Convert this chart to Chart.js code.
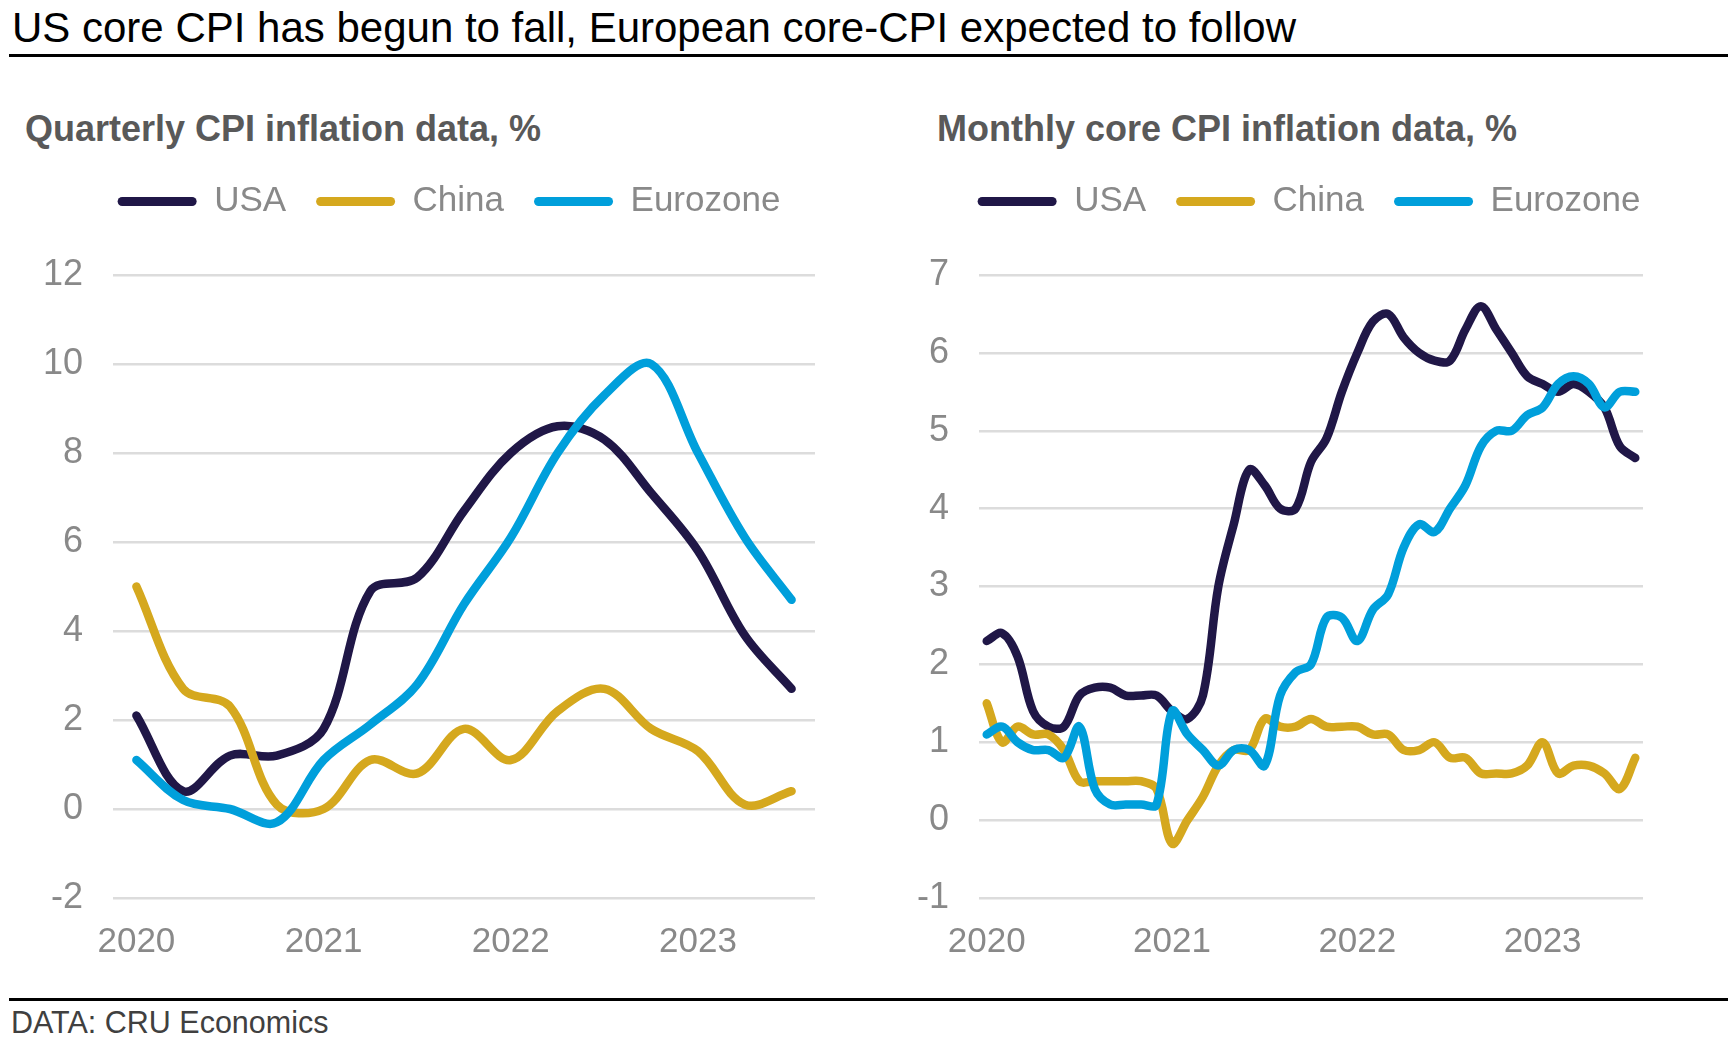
<!DOCTYPE html>
<html><head><meta charset="utf-8">
<script src="https://cdn.jsdelivr.net/npm/chart.js@4.4.1/dist/chart.umd.min.js"></script>
<style>
html,body{margin:0;padding:0;background:#fff;width:1728px;height:1049px;overflow:hidden;font-family:"Liberation Sans",Arial,sans-serif;}
#title{position:absolute;left:12px;top:6.5px;font-size:42px;line-height:42px;color:#000;white-space:nowrap;}
.rule{position:absolute;left:9px;right:0;background:#000;}
.sub{position:absolute;top:111px;font-size:36px;line-height:36px;font-weight:bold;color:#595959;white-space:nowrap;}
#src{position:absolute;left:11px;top:1007px;font-size:30.5px;line-height:30px;color:#404040;white-space:nowrap;}
canvas{position:absolute;}
</style></head>
<body>
<div id="title">US core CPI has begun to fall, European core-CPI expected to follow</div>
<div class="rule" style="top:53.5px;height:3px"></div>
<div class="sub" style="left:25px">Quarterly CPI inflation data, %</div>
<div class="sub" style="left:937px">Monthly core CPI inflation data, %</div>
<canvas id="q" width="898" height="809" style="left:0;top:154px"></canvas>
<canvas id="m" width="838" height="809" style="left:890px;top:154px"></canvas>
<div class="rule" style="top:998px;height:2.5px"></div>
<div id="src">DATA: CRU Economics</div>
<script>
// ---------- data ----------
const seriesNames = ['USA', 'China', 'Eurozone'];
const seriesColors = ['#201747', '#D5A81E', '#009FDB'];

const yearTicks = ['2020', '2021', '2022', '2023'];

const quarters = ['2020 Q1','2020 Q2','2020 Q3','2020 Q4','2021 Q1','2021 Q2','2021 Q3','2021 Q4',
                  '2022 Q1','2022 Q2','2022 Q3','2022 Q4','2023 Q1','2023 Q2','2023 Q3'];
const qUSA      = [2.1, 0.4, 1.2, 1.2, 1.8, 4.9, 5.2, 6.7, 8.0, 8.6, 8.3, 7.1, 5.8, 3.9, 2.7];
const qChina    = [5.0, 2.7, 2.3, 0.1, 0.0, 1.1, 0.8, 1.8, 1.1, 2.2, 2.7, 1.8, 1.3, 0.1, 0.4];
const qEurozone = [1.1, 0.2, 0.0, -0.3, 1.1, 1.9, 2.8, 4.6, 6.1, 8.0, 9.3, 10.0, 8.0, 6.1, 4.7];
const qYTicks   = {min: -2, max: 12, step: 2};

const months = ['Jan 2020','Feb 2020','Mar 2020','Apr 2020','May 2020','Jun 2020','Jul 2020','Aug 2020','Sep 2020','Oct 2020','Nov 2020','Dec 2020',
                'Jan 2021','Feb 2021','Mar 2021','Apr 2021','May 2021','Jun 2021','Jul 2021','Aug 2021','Sep 2021','Oct 2021','Nov 2021','Dec 2021',
                'Jan 2022','Feb 2022','Mar 2022','Apr 2022','May 2022','Jun 2022','Jul 2022','Aug 2022','Sep 2022','Oct 2022','Nov 2022','Dec 2022',
                'Jan 2023','Feb 2023','Mar 2023','Apr 2023','May 2023','Jun 2023','Jul 2023'];
const mUSA      = [2.3, 2.4, 2.1, 1.4, 1.2, 1.2, 1.6, 1.7, 1.7, 1.6, 1.6, 1.6,
                   1.4, 1.3, 1.6, 3.0, 3.8, 4.5, 4.3, 4.0, 4.0, 4.6, 4.9, 5.5,
                   6.0, 6.4, 6.5, 6.2, 6.0, 5.9, 5.9, 6.3, 6.6, 6.3, 6.0, 5.7,
                   5.6, 5.5, 5.6, 5.5, 5.3, 4.8, 4.65];
const mChina    = [1.5, 1.0, 1.2, 1.1, 1.1, 0.9, 0.5, 0.5, 0.5, 0.5, 0.5, 0.4,
                   -0.3, 0.0, 0.3, 0.7, 0.9, 0.9, 1.3, 1.2, 1.2, 1.3, 1.2, 1.2,
                   1.2, 1.1, 1.1, 0.9, 0.9, 1.0, 0.8, 0.8, 0.6, 0.6, 0.6, 0.7,
                   1.0, 0.6, 0.7, 0.7, 0.6, 0.4, 0.8];
const mEurozone = [1.1, 1.2, 1.0, 0.9, 0.9, 0.8, 1.2, 0.4, 0.2, 0.2, 0.2, 0.2,
                   1.4, 1.1, 0.9, 0.7, 0.9, 0.9, 0.7, 1.6, 1.9, 2.0, 2.6, 2.6,
                   2.3, 2.7, 2.9, 3.5, 3.8, 3.7, 4.0, 4.3, 4.8, 5.0, 5.0, 5.2,
                   5.3, 5.6, 5.7, 5.6, 5.3, 5.5, 5.5];
const mYTicks   = {min: -1, max: 7, step: 1};

// ---------- chart builder ----------
Chart.defaults.font.family = "'Liberation Sans', Arial, sans-serif";
const GREY = '#898989';

function makeChart(id, labels, series, yt, perYear, leftW, rightW) {
  const datasets = series.map((d, i) => ({
    label: seriesNames[i],
    data: d,
    borderColor: seriesColors[i],
    backgroundColor: seriesColors[i],
    borderWidth: 8.5,
    pointRadius: 0,
    pointHoverRadius: 0,
    tension: 0.35,
    borderCapStyle: 'round',
    borderJoinStyle: 'round',
    fill: false,
    order: 3 - i
  }));
  return new Chart(document.getElementById(id), {
    type: 'line',
    data: {labels, datasets},
    options: {
      responsive: false,
      animation: false,
      events: [],
      layout: {padding: 0},
      plugins: {
        tooltip: {enabled: false},
        legend: {
          position: 'top',
          align: 'center',
          labels: {
            color: GREY,
            font: {size: 35},
            boxWidth: 79,
            boxHeight: 9,
            padding: 30,
            useBorderRadius: true,
            borderRadius: 4.5,
            sort: (a, b) => a.datasetIndex - b.datasetIndex,
            generateLabels(chart) {
              const items = Chart.defaults.plugins.legend.labels.generateLabels(chart);
              return items.map(it => Object.assign(it, {
                fillStyle: it.strokeStyle, lineWidth: 0, borderRadius: 4.5, fontColor: GREY
              }));
            }
          }
        },
        title: {
          display: true, text: '', position: 'top', weight: 500,
          padding: {top: 0, bottom: 45}, font: {size: 1, lineHeight: 1}
        }
      },
      scales: {
        x: {
          type: 'category',
          offset: true,
          grid: {display: false, drawTicks: false},
          border: {display: false},
          ticks: {
            autoSkip: false, maxRotation: 0, minRotation: 0,
            color: GREY, font: {size: 35}, padding: 23,
            callback: (v, i) => (i % perYear === 0 ? yearTicks[i / perYear] : '')
          },
          afterFit: s => { s.height = 65; }
        },
        y: {
          position: 'left',
          min: yt.min, max: yt.max,
          grid: {color: '#dcdcdc', lineWidth: 2.5, drawTicks: false},
          border: {display: false},
          ticks: {stepSize: yt.step, color: GREY, font: {size: 36}, padding: 30},
          afterFit: s => { s.width = leftW; }
        },
        pad: {
          position: 'right',
          display: true,
          grid: {display: false, drawTicks: false},
          border: {display: false},
          ticks: {display: false},
          afterFit: s => { s.width = rightW; }
        }
      }
    }
  });
}

makeChart('q', quarters, [qUSA, qChina, qEurozone], qYTicks, 4, 113, 83);
makeChart('m', months, [mUSA, mChina, mEurozone], mYTicks, 12, 89, 85);
</script>
</body></html>
